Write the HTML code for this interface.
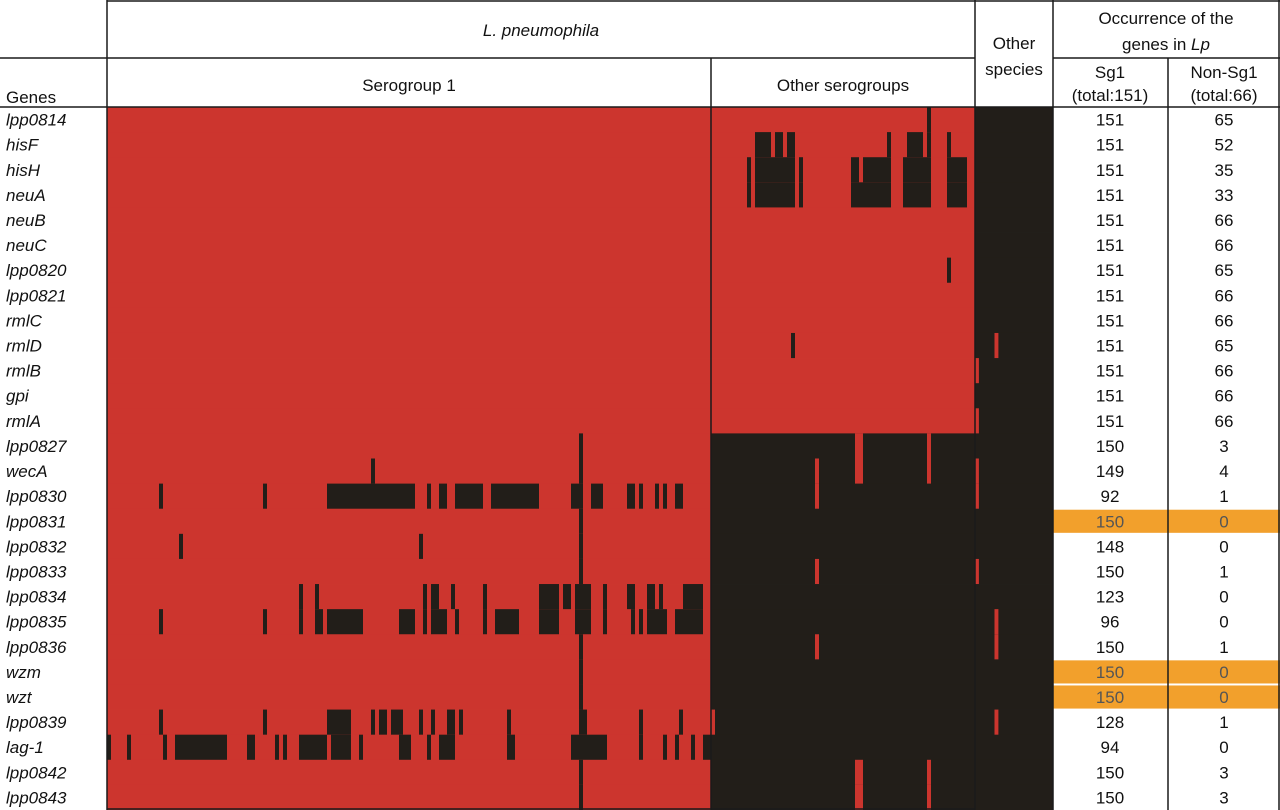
<!DOCTYPE html>
<html><head><meta charset="utf-8"><style>
html,body{margin:0;padding:0;background:#fff;}
svg{display:block;font-family:"Liberation Sans",sans-serif;}
</style></head><body>
<svg id="chart" width="1280" height="810" viewBox="0 0 1280 810">
<g id="cells"></g>
<g id="texts"></g>
<g id="lines" stroke="#1a1a1a" stroke-width="1.5">
<line x1="107" y1="1" x2="1280" y2="1"/>
<line x1="0" y1="58" x2="975" y2="58"/>
<line x1="1053" y1="58" x2="1280" y2="58"/>
<line x1="0" y1="107" x2="1280" y2="107"/>
<line x1="107" y1="0" x2="107" y2="810"/>
<line x1="711" y1="58" x2="711" y2="810"/>
<line x1="975" y1="0" x2="975" y2="810"/>
<line x1="1053" y1="0" x2="1053" y2="810"/>
<line x1="1168" y1="58" x2="1168" y2="810"/>
<line x1="1279" y1="0" x2="1279" y2="810"/>
<line x1="107" y1="809" x2="975" y2="809"/>
</g>
<g font-size="17" fill="#111" text-anchor="middle">
<text x="541" y="36" font-style="italic">L. pneumophila</text>
<text x="409" y="91">Serogroup 1</text>
<text x="843" y="91">Other serogroups</text>
<text x="1014" y="49">Other</text>
<text x="1014" y="75">species</text>
<text x="1166" y="24">Occurrence of the</text>
<text x="1166" y="50">genes in <tspan font-style="italic">Lp</tspan></text>
<text x="1110" y="78">Sg1</text>
<text x="1110" y="101">(total:151)</text>
<text x="1224" y="78">Non-Sg1</text>
<text x="1224" y="101">(total:66)</text>
<text x="6" y="103" text-anchor="start">Genes</text>
</g>
</svg>
<script>
const genes=["lpp0814","hisF","hisH","neuA","neuB","neuC","lpp0820","lpp0821","rmlC","rmlD","rmlB","gpi","rmlA","lpp0827","wecA","lpp0830","lpp0831","lpp0832","lpp0833","lpp0834","lpp0835","lpp0836","wzm","wzt","lpp0839","lag-1","lpp0842","lpp0843"];
const sg1Counts=[151,151,151,151,151,151,151,151,151,151,151,151,151,150,149,92,150,148,150,123,96,150,150,150,128,94,150,150];
const nonSg1Counts=[65,52,35,33,66,66,65,66,66,65,66,66,66,3,4,1,0,0,1,0,0,1,0,0,1,0,3,3];
const highlightRows=[16,22,23];
const sg1Missing=[[],[],[],[],[],[],[],[],[],[],[],[],[],
[[118,118]],
[[66,66],[118,118]],
[[13,13],[39,39],[55,76],[80,80],[83,84],[87,93],[96,107],[116,118],[121,123],[130,131],[133,133],[137,137],[139,139],[142,143]],
[[118,118]],
[[18,18],[78,78],[118,118]],
[[118,118]],
[[48,48],[52,52],[79,79],[81,82],[86,86],[94,94],[108,112],[114,115],[117,120],[124,124],[130,131],[135,136],[138,138],[144,148]],
[[13,13],[39,39],[48,48],[52,53],[55,63],[73,76],[79,79],[81,84],[87,87],[94,94],[97,102],[108,112],[117,120],[124,124],[131,131],[133,133],[135,139],[142,148]],
[[118,118]],[[118,118]],[[118,118]],
[[13,13],[39,39],[55,60],[66,66],[68,69],[71,73],[78,78],[81,81],[85,86],[88,88],[100,100],[118,119],[133,133],[143,143]],
[[0,0],[5,5],[14,14],[17,29],[35,36],[42,42],[44,44],[48,54],[56,60],[63,63],[73,75],[80,80],[83,86],[100,101],[116,124],[133,133],[139,139],[142,142],[146,146],[149,150]],
[[118,118]],[[118,118]]];
const ogDefaultPresent=[1,1,1,1,1,1,1,1,1,1,1,1,1,0,0,0,0,0,0,0,0,0,0,0,0,0,0,0];
const ogExceptions=[[[54,54]],
[[11,14],[16,17],[19,20],[44,44],[49,52],[54,54],[59,59]],
[[9,9],[11,14],[15,20],[22,22],[35,36],[38,44],[48,54],[59,63]],
[[9,9],[11,20],[22,22],[35,44],[48,54],[59,63]],
[],[],[[59,59]],[],[],[[20,20]],[],[],[],
[[36,37],[54,54]],[[26,26],[36,37],[54,54]],[[26,26]],[],[],[[26,26]],[],[],[[26,26]],[],[],[[0,0]],[],[[36,37],[54,54]],[[36,37],[54,54]]];
const spPresent=[[],[],[],[],[],[],[],[],[],[[5,5]],[[0,0]],[],[[0,0]],[],[[0,0]],[[0,0]],[],[],[[0,0]],[],[[5,5]],[[5,5]],[],[],[[5,5]],[],[],[]];

const RED="#cc352e",BLK="#221e19",ORG="#f2a02c";
const top0=107,rowH=(810-107)/28;
const sec={sg1:{x:107,w:4,n:151},og:{x:711,w:4,n:66},sp:{x:975,w:3.9,n:20}};
const rowY=r=>top0+r*rowH;
const colX=(s,i)=>sec[s].x+i*sec[s].w;
const NS="http://www.w3.org/2000/svg";
const cells=document.getElementById('cells'),texts=document.getElementById('texts');
function rect(x,y,w,h,fill,name){const e=document.createElementNS(NS,'rect');
e.setAttribute('x',x);e.setAttribute('y',y);e.setAttribute('width',w);e.setAttribute('height',h);e.setAttribute('fill',fill);


cells.appendChild(e);return e;}
function span(s,r,a,b,fill,name){const x0=colX(s,a),x1=colX(s,b+1);rect(x0,rowY(r),x1-x0,rowH+0.4,fill,name);}
for(let r=0;r<28;r++){
  span('sg1',r,0,150,RED,'sg1-row-bg');
  sg1Missing[r].forEach(g=>span('sg1',r,g[0],g[1],BLK,'sg1-absent-cell'));
  const ogp=ogDefaultPresent[r];
  span('og',r,0,65,ogp?RED:BLK,'og-row-bg');
  ogExceptions[r].forEach(g=>span('og',r,g[0],g[1],ogp?BLK:RED,ogp?'og-absent-cell':'og-present-cell'));
  span('sp',r,0,19,BLK,'species-row-bg');
  spPresent[r].forEach(g=>span('sp',r,g[0],g[1],RED,'species-present-cell'));
  if(highlightRows.includes(r)){rect(1053,rowY(r)+1,227,rowH-2,ORG,'highlight-row');}
  const cy=rowY(r)+rowH/2+6;
  const t=document.createElementNS(NS,'text');t.setAttribute('x',6);t.setAttribute('y',cy);t.setAttribute('font-size','17');t.setAttribute('font-style','italic');t.setAttribute('fill','#111');t.textContent=genes[r];
  
  
  texts.appendChild(t);
  const hl=highlightRows.includes(r);
  [[1110,sg1Counts[r],'sg1-count'],[1224,nonSg1Counts[r],'non-sg1-count']].forEach(c=>{
    const n=document.createElementNS(NS,'text');n.setAttribute('x',c[0]);n.setAttribute('y',cy);n.setAttribute('font-size','17');n.setAttribute('text-anchor','middle');n.setAttribute('fill',hl?'#555':'#111');n.textContent=c[1];
    
    
    texts.appendChild(n);});
}
</script>
</body></html>
